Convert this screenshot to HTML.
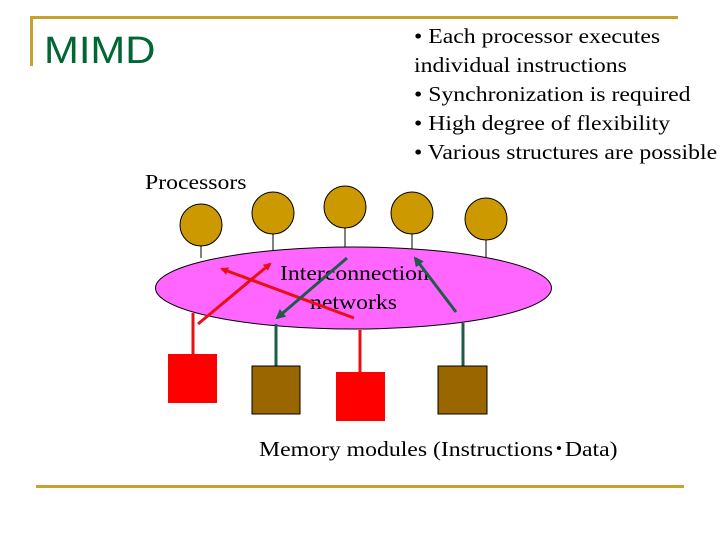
<!DOCTYPE html>
<html><head><style>
body{margin:0;width:720px;height:540px;background:#fff;overflow:hidden;position:relative}
.t{position:absolute;font-family:"Liberation Serif","Noto Serif CJK SC",serif;font-size:21px;color:#000;white-space:nowrap;transform:scaleX(1.13);transform-origin:0 0}
</style></head><body>
<svg width="720" height="540" style="position:absolute;left:0;top:0">
<defs>
<marker id="ar" markerWidth="8" markerHeight="8" refX="6" refY="4" orient="auto" markerUnits="userSpaceOnUse"><path d="M0,0 L8,4 L0,8 z" fill="#e81010"/></marker>
<marker id="ag" markerWidth="10" markerHeight="10" refX="8" refY="5" orient="auto" markerUnits="userSpaceOnUse"><path d="M0,0 L10,5 L0,10 z" fill="#1e5c4a"/></marker>
</defs>
<line x1="30" y1="17.5" x2="678" y2="17.5" stroke="#c8a030" stroke-width="3"/>
<line x1="31.5" y1="17" x2="31.5" y2="66" stroke="#c8a030" stroke-width="3"/>
<line x1="36" y1="486.5" x2="684" y2="486.5" stroke="#c8a030" stroke-width="3"/>
<g stroke="#000" stroke-width="1">
<line x1="201" y1="246" x2="201" y2="258"/>
<line x1="273" y1="234" x2="273" y2="252"/>
<line x1="345" y1="228" x2="345" y2="248"/>
<line x1="412" y1="234" x2="412" y2="252"/>
<line x1="486" y1="240" x2="486" y2="258"/>
</g>
<g fill="#cc9900" stroke="#000" stroke-width="1">
<circle cx="201" cy="225" r="21"/><circle cx="273" cy="213" r="21"/><circle cx="345" cy="207" r="21"/><circle cx="412" cy="213" r="21"/><circle cx="486" cy="219" r="21"/>
</g>
<ellipse cx="353.5" cy="288" rx="198" ry="41" fill="#ff66ff" stroke="#000" stroke-width="1"/>
<line x1="193" y1="313" x2="193" y2="354" stroke="#e81010" stroke-width="3"/>
<line x1="360" y1="330" x2="360" y2="372" stroke="#e81010" stroke-width="3"/>
<line x1="276" y1="324" x2="276" y2="366" stroke="#1e5c4a" stroke-width="3"/>
<line x1="463" y1="323" x2="463" y2="366" stroke="#1e5c4a" stroke-width="3"/>
<rect x="168" y="354" width="49" height="49" fill="#ff0000"/>
<rect x="336" y="372" width="49" height="49" fill="#ff0000"/>
<rect x="252" y="366" width="48" height="48" fill="#996600" stroke="#000" stroke-width="1"/>
<rect x="438" y="366" width="49" height="48" fill="#996600" stroke="#000" stroke-width="1"/>
</svg>
<div class="t" style="left:280px;top:261px">Interconnection</div>
<div class="t" style="left:310px;top:290px">networks</div>
<svg width="720" height="540" style="position:absolute;left:0;top:0">
<line x1="198" y1="324" x2="270" y2="264" stroke="#e81010" stroke-width="3" marker-end="url(#ar)"/>
<line x1="354" y1="318" x2="222" y2="269" stroke="#e81010" stroke-width="3" marker-end="url(#ar)"/>
<line x1="347" y1="258" x2="277" y2="318" stroke="#1e5c4a" stroke-width="3" marker-end="url(#ag)"/>
<line x1="456" y1="312" x2="415" y2="258" stroke="#1e5c4a" stroke-width="3" marker-end="url(#ag)"/>
</svg>
<div style="position:absolute;left:44px;top:30px;font-family:'Liberation Sans',sans-serif;font-size:38px;color:#006633;transform:scaleX(1.1);transform-origin:0 0">MIMD</div>
<div class="t" style="left:414px;top:22px;line-height:29px">• Each processor executes<br>individual instructions<br>• Synchronization is required<br>• High degree of flexibility<br>• Various structures are possible</div>
<div class="t" style="left:145px;top:170px">Processors</div>
<div class="t" style="left:259px;top:433px">Memory modules (Instructions･Data)</div>
</body></html>
